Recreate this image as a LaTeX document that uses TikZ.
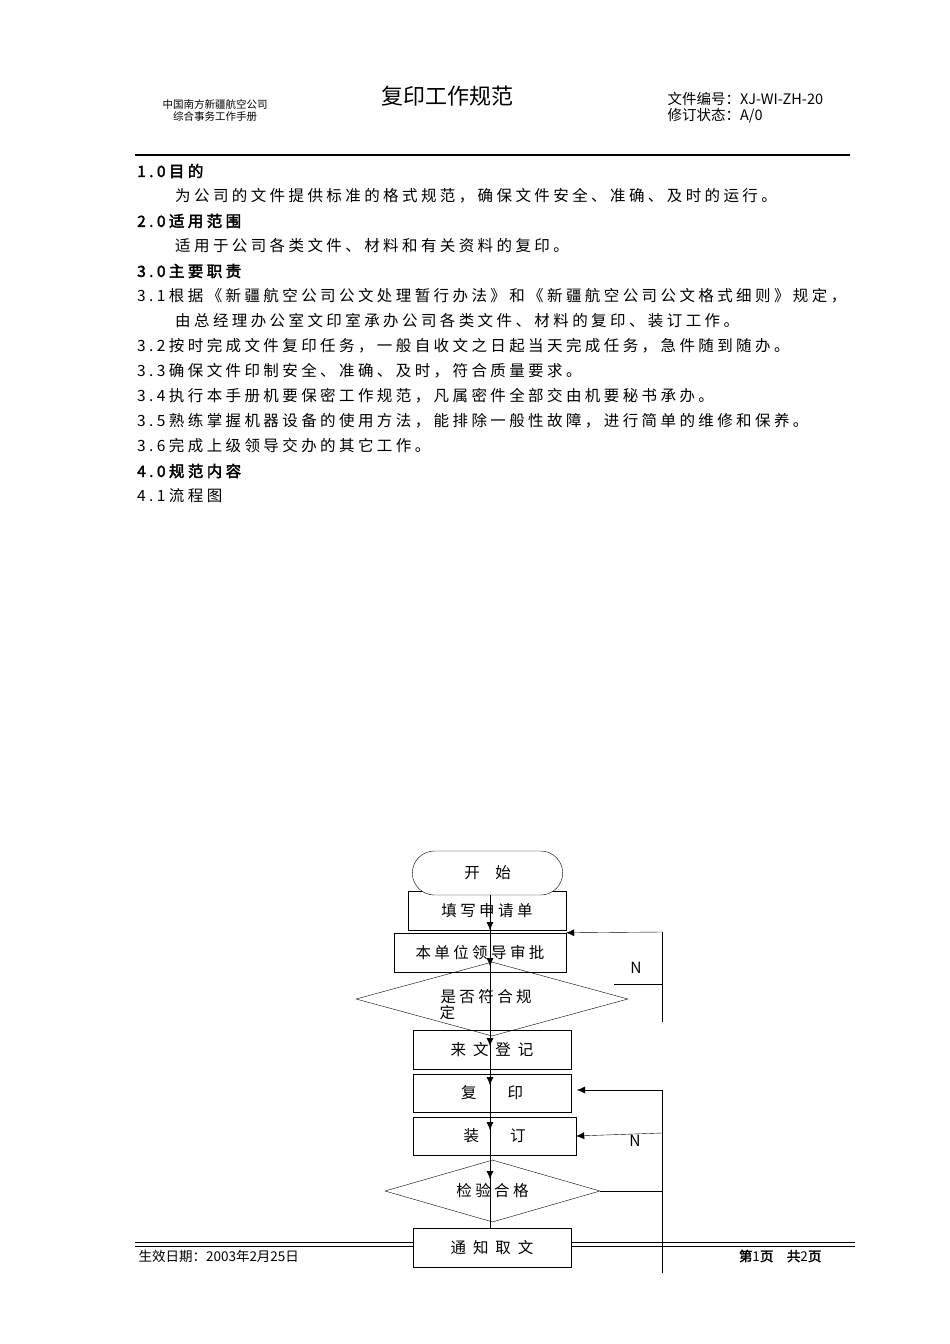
\documentclass[tikz,border=0pt]{standalone}
\usepackage{fontspec}
\setmainfont{Noto Sans CJK SC}[AutoFakeBold=2]
\newfontfamily\bodyfont{Noto Sans CJK SC}[LetterSpace=22,AutoFakeBold=2.5]
\usetikzlibrary{arrows.meta,positioning,shapes.geometric,shapes.misc}

\tikzset{
	box/.style={draw, rectangle, inner sep=0pt},
	startbox/.style={draw, rounded rectangle, minimum width=157pt, minimum height=44pt},
	check/.style={draw, diamond, aspect=3.6, inner sep=0pt},
	txt/.style={anchor=west, inner sep=0pt, font=\bodyfont\fontsize{15.5pt}{16pt}\selectfont},
	flow/.style={font=\bodyfont\fontsize{15.5pt}{16pt}\selectfont}
}

\begin{document}
\begin{tikzpicture}[x=1pt, y=-1pt, >={Latex[length=8pt,width=7pt]}]
		\useasboundingbox (0,0) rectangle (950,1344);
		\fill[white] (0,0) rectangle (950,1344);
		
		% header
		\node[font=\fontsize{10.5pt}{12pt}\selectfont, align=center] (org) at (215,110) {中国南方新疆航空公司\\综合事务工作手册};
		\node[font=\fontsize{22pt}{24pt}\selectfont] (title) at (447,96) {复印工作规范};
		\node[font=\fontsize{14.5pt}{16pt}\selectfont, align=left, anchor=west] (docno) at (664,108) {文件编号：XJ-WI-ZH-20\\修订状态：A/0};
		\draw[line width=1.2pt] (135,155) -- (850,155);
		
		% body
		\node[txt] (h1) at (137,171) {\textbf{1.0目的}};
		\node[txt] (t1) at (175,196) {为公司的文件提供标准的格式规范，确保文件安全、准确、及时的运行。};
		\node[txt] (h2) at (137,221) {\textbf{2.0适用范围}};
		\node[txt] (t2) at (175,246) {适用于公司各类文件、材料和有关资料的复印。};
		\node[txt] (h3) at (137,271) {\textbf{3.0主要职责}};
		\node[txt] (t31) at (137,296) {3.1根据《新疆航空公司公文处理暂行办法》和《新疆航空公司公文格式细则》规定，};
		\node[txt] (t31b) at (175,321) {由总经理办公室文印室承办公司各类文件、材料的复印、装订工作。};
		\node[txt] (t32) at (137,346) {3.2按时完成文件复印任务，一般自收文之日起当天完成任务，急件随到随办。};
		\node[txt] (t33) at (137,371) {3.3确保文件印制安全、准确、及时，符合质量要求。};
		\node[txt] (t34) at (137,396) {3.4执行本手册机要保密工作规范，凡属密件全部交由机要秘书承办。};
		\node[txt] (t35) at (137,421) {3.5熟练掌握机器设备的使用方法，能排除一般性故障，进行简单的维修和保养。};
		\node[txt] (t36) at (137,446) {3.6完成上级领导交办的其它工作。};
		\node[txt] (h4) at (137,471) {\textbf{4.0规范内容}};
		\node[txt] (t41) at (137,496) {4.1流程图};
		
		% flowchart
		\node[box, minimum width=158pt, minimum height=39pt, flow] (apply) at (487,910.5) {填写申请单};
		\node[startbox, fill=white, flow] (start) at (487.5,873) {开\quad 始};
		\node[box, minimum width=172pt, minimum height=39pt, flow] (approve) at (480,952.5) {本单位领导审批};
		\node[check, minimum width=272pt, minimum height=74pt] (rule) at (492,999) {};
		\node[flow, align=left, anchor=north west] (ruletxt) at (436,986) {\hspace*{1pt}是否符合规\\定};
		\node[box, minimum width=158pt, minimum height=39pt, flow] (reg) at (492,1049.5) {来 文 登 记};
		\node[box, minimum width=158pt, minimum height=38pt, flow] (copy) at (492,1093) {复\qquad 印};
		\node[box, minimum width=163pt, minimum height=38pt, flow] (bind) at (494.5,1136) {装\qquad 订};
		\node[check, minimum width=215pt, minimum height=62pt, flow] (ok) at (492.5,1191) {检验合格};
		\node[box, minimum width=158pt, minimum height=39pt, flow] (notify) at (492,1247.5) {通 知 取 文};
		
		% main line
		\coordinate (top) at (490,895);
		\draw (top) -- (490,1228);
		\foreach \yy in {933,969,1049,1088,1133,1182}
		\draw[->] (490,\yy-12) -- (490,\yy-3);
		
		% N loops
		\coordinate (r1) at (662,932);
		\coordinate (r2) at (662,1022);
		\draw (r2) -- (r1);
		\draw[->] (r1) -- (approve.north east);
		\draw (614,984) -- (662,984);
		\node[flow] (n1) at (636,968) {N};
		
		\coordinate (r3) at (662,1090);
		\coordinate (r4) at (662,1273);
		\draw (r3) -- (r4);
		\draw[->] (r3) -- (577,1090);
		\draw[->] (662,1133) -- (bind.east);
		\draw (ok.east) -- (662,1191);
		\node[flow] (n2) at (635,1141) {N};
		
		% footer
		\draw (135,1242) -- (413,1242) (571,1242) -- (855,1242);
		\draw (135,1246) -- (413,1246) (571,1246) -- (855,1246);
		\node[anchor=west, font=\fontsize{13.5pt}{15pt}\selectfont] (date) at (135,1256) {生效日期：2003年2月25日};
		\node[anchor=east, font=\fontsize{13.5pt}{15pt}\selectfont] (page) at (825,1256) {\textbf{第}1\textbf{页}\quad\textbf{共}2\textbf{页}};
	\end{tikzpicture}
\end{document}
